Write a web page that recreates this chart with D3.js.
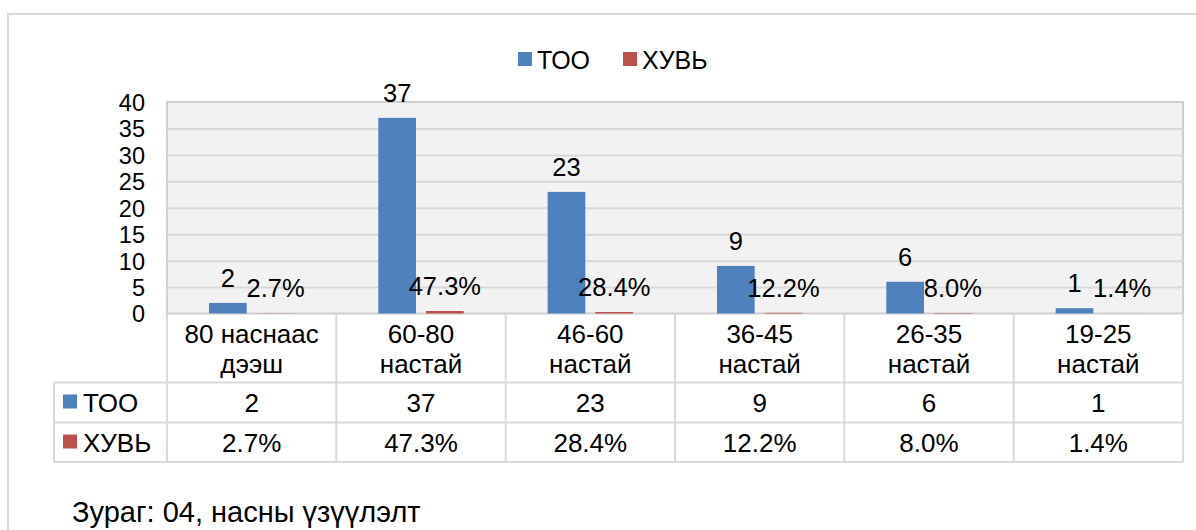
<!DOCTYPE html>
<html>
<head>
<meta charset="utf-8">
<script src="https://cdn.jsdelivr.net/npm/d3@7"></script>
<style>
  body { margin: 0; background: #fff; }
  text { font-family: "Liberation Sans", Arial, sans-serif; fill: #000; }
</style>
</head>
<body>
<div id="chart"></div>
<script>
// data
const categories = [
  ["80 наснаас", "дээш"],
  ["60-80", "настай"],
  ["46-60", "настай"],
  ["36-45", "настай"],
  ["26-35", "настай"],
  ["19-25", "настай"]
];
const seriesNames = ["ТОО", "ХУВЬ"];
const tooValues = [2, 37, 23, 9, 6, 1];
const huviValues = [0.027, 0.473, 0.284, 0.122, 0.080, 0.014];
const yTicks = [0, 5, 10, 15, 20, 25, 30, 35, 40];
const colors = ["#4f81bd", "#c0504d"];

const width = 1196;
const height = 530;
const svg = d3.select("#chart").append("svg")
  .attr("width", width).attr("height", height);

// outer frame
svg.append("rect")
  .attr("x", 8).attr("y", 14)
  .attr("width", 1300).attr("height", 700)
  .attr("fill", "none").attr("stroke", "#d9d9d9").attr("stroke-width", 2);

const plot = { left: 167, right: 1183, top: 102, bottom: 313.5 };
const fmtPct = d3.format(".1%");

const x = d3.scaleBand()
  .domain(d3.range(categories.length))
  .range([plot.left, plot.right]);
const xs = d3.scaleBand()
  .domain(seriesNames)
  .range([0, x.bandwidth()])
  .paddingInner(0.21)
  .paddingOuter(0.88);
const y = d3.scaleLinear().domain([0, 40]).range([plot.bottom, plot.top]);

// plot area
svg.append("rect")
  .attr("x", plot.left).attr("y", plot.top)
  .attr("width", plot.right - plot.left).attr("height", plot.bottom - plot.top)
  .attr("fill", "#f2f2f2").attr("stroke", "#cfcfcf").attr("stroke-width", 2);

const grid = svg.append("g")
  .attr("transform", `translate(${plot.left},0)`)
  .call(d3.axisLeft(y).tickValues(yTicks.slice(1, -1)).tickSize(-(plot.right - plot.left)).tickFormat(""));
grid.select(".domain").remove();
grid.selectAll("line").attr("stroke", "#d9d9d9").attr("stroke-width", 2);

const yAxis = svg.append("g")
  .attr("transform", `translate(${plot.left - 22},0)`)
  .call(d3.axisLeft(y).tickValues(yTicks).tickSize(0).tickPadding(0));
yAxis.select(".domain").remove();
yAxis.selectAll("text")
  .style("font-size", "23.5px")
  .style("font-family", "'Liberation Sans', Arial, sans-serif")
  .attr("dy", "0.36em");

// bars
const seriesData = [tooValues, huviValues];
seriesData.forEach((vals, si) => {
  const name = seriesNames[si];
  svg.append("g").selectAll("rect")
    .data(vals)
    .join("rect")
    .attr("x", (d, i) => x(i) + xs(name))
    .attr("y", d => y(d))
    .attr("width", xs.bandwidth())
    .attr("height", d => y(0) - y(d))
    .attr("fill", colors[si]);

  svg.append("g").selectAll("text")
    .data(vals)
    .join("text")
    .attr("x", (d, i) => x(i) + xs(name) + xs.bandwidth() / 2)
    .attr("y", d => y(d) - 16)
    .attr("text-anchor", "middle")
    .style("font-size", "25.5px")
    .text(d => si === 0 ? d : fmtPct(d));
});

// legend
const legend = svg.append("g");
const legendItems = [{ x: 518, name: seriesNames[0] }, { x: 623, name: seriesNames[1] }];
legendItems.forEach((it, i) => {
  legend.append("rect")
    .attr("x", it.x).attr("y", 52).attr("width", 14).attr("height", 14)
    .attr("fill", colors[i]);
  legend.append("text")
    .attr("x", it.x + 19).attr("y", 68.5)
    .style("font-size", "25px")
    .text(it.name);
});

// data table
const table = svg.append("g");
const rowY = [plot.bottom, 382.5, 422.5, 462];
const tableLeft = 54;
const lineColor = "#d9d9d9";

table.selectAll("line.h")
  .data(rowY.slice(1))
  .join("line")
  .attr("x1", tableLeft).attr("x2", plot.right)
  .attr("y1", d => d).attr("y2", d => d)
  .attr("stroke", lineColor).attr("stroke-width", 2);

const vx = d3.range(categories.length + 1).map(i => i < categories.length ? x(i) : plot.right);
table.selectAll("line.v")
  .data(vx)
  .join("line")
  .attr("x1", d => d).attr("x2", d => d)
  .attr("y1", plot.bottom).attr("y2", rowY[3])
  .attr("stroke", lineColor).attr("stroke-width", 2);
table.append("line")
  .attr("x1", tableLeft).attr("x2", tableLeft)
  .attr("y1", rowY[1]).attr("y2", rowY[3])
  .attr("stroke", lineColor).attr("stroke-width", 2);

// header labels
table.selectAll("text.cat")
  .data(categories)
  .join("text")
  .attr("class", "cat")
  .attr("text-anchor", "middle")
  .style("font-size", "26px")
  .each(function (d, i) {
    d3.select(this).selectAll("tspan")
      .data(d)
      .join("tspan")
      .attr("x", x(i) + x.bandwidth() / 2)
      .attr("y", (t, j) => 343 + j * 30)
      .text(t => t);
  });

// value rows
seriesData.forEach((vals, si) => {
  const base = rowY[si + 1] + 29;
  table.append("rect")
    .attr("x", 63).attr("y", rowY[si + 1] + 12)
    .attr("width", 14).attr("height", 14)
    .attr("fill", colors[si]);
  table.append("text")
    .attr("x", 83).attr("y", base)
    .style("font-size", "26px")
    .text(seriesNames[si]);
  table.append("g").selectAll("text")
    .data(vals)
    .join("text")
    .attr("x", (d, i) => x(i) + x.bandwidth() / 2)
    .attr("y", base)
    .attr("text-anchor", "middle")
    .style("font-size", "26px")
    .text(d => si === 0 ? d : fmtPct(d));
});

// caption
svg.append("text")
  .attr("x", 72).attr("y", 522)
  .style("font-size", "29px")
  .text("Зураг: 04, насны үзүүлэлт");
</script>
</body>
</html>
